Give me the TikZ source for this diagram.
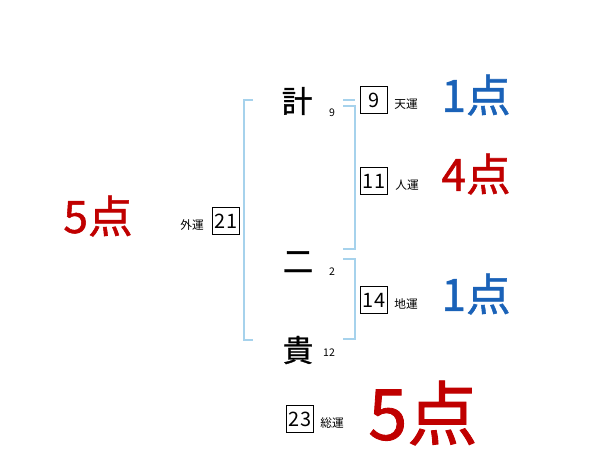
\documentclass[tikz,border=0pt]{standalone}
\usepackage{fontspec}
\usepackage{xcolor}
\newfontfamily\jpfont{Noto Sans CJK JP}
\newfontfamily\jpthick[FakeBold=1.2]{Noto Sans CJK JP}
\usetikzlibrary{positioning}
\definecolor{ScoreRed}{HTML}{C00000}
\definecolor{ScoreBlue}{HTML}{1A62B8}
\definecolor{BracketBlue}{HTML}{A6D2EC}
\tikzset{
    % name characters and stroke counts
    kanji/.style={
        inner sep=0pt,
        font=\jpthick\fontsize{26}{26}\selectfont
    },
    strokes/.style={
        inner sep=0pt,
        font=\jpfont\fontsize{9}{9}\selectfont
    },
    % boxed fortune numbers
    fortune/.style={
        rectangle,
        draw=black,
        line width=0.6pt,
        minimum width=23pt,
        minimum height=23pt,
        inner sep=0pt,
        font=\jpfont\fontsize{17}{17}\selectfont
    },
    fortunelabel/.style={
        inner sep=0pt,
        font=\jpfont\fontsize{10}{10}\selectfont
    },
    % scores
    score/.style={
        inner sep=0pt,
        font=\jpthick\fontsize{38}{38}\selectfont
    },
    bigscore/.style={
        inner sep=0pt,
        font=\jpthick\fontsize{60}{60}\selectfont
    },
    bracket/.style={
        draw=BracketBlue,
        line width=1.6pt
    }
}

\begin{document}
\begin{tikzpicture}[x=0.03cm, y=-0.03cm]
    \useasboundingbox (0,0) rectangle (600,470);

    % Name
    \node[kanji] (k1) at (297,101) {計};
    \node[strokes] (s1) at (332,113) {9};
    \node[kanji] (k2) at (298,262) {二};
    \node[strokes] (s2) at (332,272) {2};
    \node[kanji] (k3) at (298,350) {貴};
    \node[strokes] (s3) at (329,353) {12};

    % Brackets
    \coordinate (outerTop) at (253,100);
    \coordinate (outerBottom) at (253,340);
    \draw[bracket] (outerTop) -- (244,100) -- (244,340) -- (outerBottom);
    \coordinate (tenTop) at (343,100);
    \draw[bracket] (tenTop) -- (355,100);
    \coordinate (jinTop) at (343,106);
    \coordinate (jinBottom) at (343,249);
    \draw[bracket] (jinTop) -- (355,106) -- (355,249) -- (jinBottom);
    \coordinate (chiTop) at (343,259);
    \coordinate (chiBottom) at (343,339);
    \draw[bracket] (chiTop) -- (355,259) -- (355,339) -- (chiBottom);

    % Fortunes
    \node[fortune] (ten) at (374,100) {9};
    \node[fortunelabel] (tenLabel) at (406,104) {天運};
    \node[fortune] (jin) at (374,181) {11};
    \node[fortunelabel] (jinLabel) at (407,185) {人運};
    \node[fortune] (chi) at (374,300) {14};
    \node[fortunelabel] (chiLabel) at (406,304) {地運};
    \node[fortune] (gai) at (226,221) {21};
    \node[fortunelabel] (gaiLabel) at (192,225) {外運};
    \node[fortune] (sou) at (300,419) {23};
    \node[fortunelabel] (souLabel) at (332,423) {総運};

    % Scores
    \node[score, text=ScoreRed] (gaiScore) at (98,216) {5点};
    \node[score, text=ScoreBlue] (tenScore) at (476,95) {1点};
    \node[score, text=ScoreRed] (jinScore) at (476,174) {4点};
    \node[score, text=ScoreBlue] (chiScore) at (476,294) {1点};
    \node[bigscore, text=ScoreRed] (souScore) at (423,413) {5点};
\end{tikzpicture}
\end{document}
